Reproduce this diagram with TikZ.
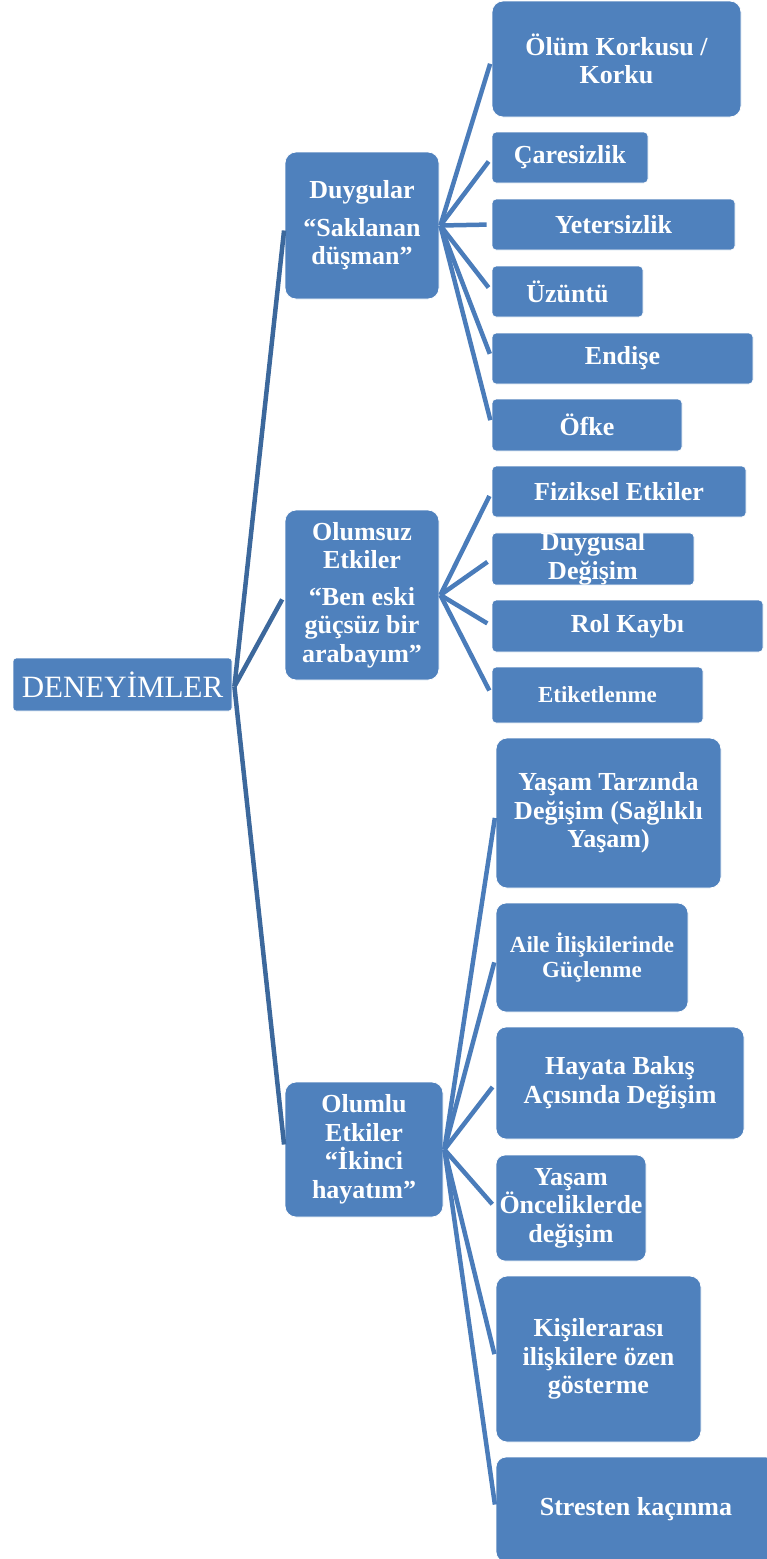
\documentclass[tikz,border=0pt]{standalone}
\usepackage{fontspec}
\setmainfont{Liberation Serif}
\definecolor{boxblue}{RGB}{79,129,189}
\definecolor{connA}{RGB}{60,104,156}
\definecolor{connB}{RGB}{74,124,186}
\begin{document}
\begin{tikzpicture}[x=1pt,y=-1pt,
  box/.style={rectangle, fill=boxblue, draw=white, line width=0.8pt, text=white,
    align=center, inner sep=0pt, font=\bfseries\fontsize{26}{28.5}\selectfont},
  smallr/.style={rounded corners=4pt},
  bigr/.style={rounded corners=11pt},
  rootc/.style={draw=connA, line width=4.5pt},
  leafc/.style={draw=connB, line width=4.5pt, shorten >=5pt}]
\useasboundingbox (0,0) rectangle (767,1559);
\clip (0,0) rectangle (767,1559);
% root
\node[box, rounded corners=3pt, minimum width=219pt, minimum height=53pt,
  font=\mdseries\fontsize{31}{34}\selectfont] (root) at (122.5,684.5) {DENEYİMLER};
% level 1
\node[box, bigr, minimum width=154pt, minimum height=147pt] (duy) at (362,225.5)
  {Duygular\\[9pt]“Saklanan\\düşman”};
\node[box, bigr, minimum width=154pt, minimum height=170pt] (olms) at (362,595)
  {Olumsuz\\Etkiler\\[8pt]“Ben eski\\güçsüz bir\\arabayım”};
\node[box, bigr, minimum width=158pt, minimum height=135pt] (olml) at (364,1149.5)
  {Olumlu\\Etkiler\\“İkinci\\hayatım”};
% group 1 leaves
\node[box, bigr, minimum width=249pt, minimum height=116pt] (olum) at (616.5,59)
  {Ölüm Korkusu /\\Korku};
\node[box, smallr, minimum width=156pt, minimum height=51pt] (care) at (570,157.5) {Çaresizlik};
\node[box, smallr, minimum width=243pt, minimum height=51pt] (yete) at (613.5,224.5) {Yetersizlik};
\node[box, smallr, minimum width=151pt, minimum height=51pt] (uzun) at (567.5,291.5) {Üzüntü};
\node[box, smallr, minimum width=261pt, minimum height=51pt] (endi) at (622.5,358.5) {Endişe};
\node[box, smallr, minimum width=190pt, minimum height=52pt] (ofke) at (587,425) {Öfke};
% group 2 leaves
\node[box, smallr, minimum width=254pt, minimum height=51pt] (fizi) at (619,491.5) {Fiziksel Etkiler};
\node[box, smallr, minimum width=202pt, minimum height=52pt] (duyg) at (593,559)
  {Duygusal\\Değişim};
\node[box, smallr, minimum width=271pt, minimum height=52pt] (rolk) at (627.5,626) {Rol Kaybı};
\node[box, smallr, minimum width=211pt, minimum height=56pt,
  font=\bfseries\fontsize{23}{25}\selectfont] (etik) at (597.5,695) {Etiketlenme};
% group 3 leaves
\node[box, bigr, minimum width=225pt, minimum height=150pt] (yasa) at (608.5,813)
  {Yaşam Tarzında\\Değişim (Sağlıklı\\Yaşam)};
\node[box, rounded corners=10pt, minimum width=192pt, minimum height=109pt,
  font=\bfseries\fontsize{23}{25}\selectfont] (aile) at (592,957.5)
  {Aile İlişkilerinde\\Güçlenme};
\node[box, rounded corners=10pt, minimum width=248pt, minimum height=112pt] (haya) at (620,1083)
  {Hayata Bakış\\Açısında Değişim};
\node[box, rounded corners=9pt, minimum width=150pt, minimum height=106pt] (once) at (571,1208)
  {Yaşam\\Önceliklerde\\değişim};
\node[box, bigr, minimum width=205pt, minimum height=166pt] (kisi) at (598.5,1359)
  {Kişilerarası\\ilişkilere özen\\gösterme};
\node[box, rounded corners=10pt, minimum width=280pt, minimum height=105pt] (stre) at (636,1509.5)
  {Stresten kaçınma};
% root connectors
\foreach \t in {duy,olms,olml}
  \draw[rootc, shorten >=5pt] ([xshift=2pt,yshift=-2pt]root.east) -- (\t.west);
% leaf connectors
\foreach \t in {olum,care,yete,uzun,endi,ofke}
  \draw[leafc] ([xshift=1pt]duy.east) -- (\t.west);
\foreach \t in {fizi,duyg,rolk,etik}
  \draw[leafc] ([xshift=1pt]olms.east) -- (\t.west);
\foreach \t in {yasa,aile,haya,once,kisi,stre}
  \draw[leafc] ([xshift=1pt]olml.east) -- (\t.west);
\end{tikzpicture}
\end{document}
